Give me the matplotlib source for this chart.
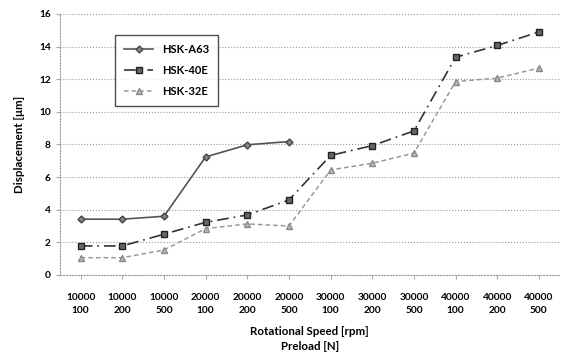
import matplotlib
matplotlib.use("Agg")
import matplotlib.pyplot as plt

speeds = ["10000", "10000", "10000", "20000", "20000", "20000",
          "30000", "30000", "30000", "40000", "40000", "40000"]
preloads = ["100", "200", "500"] * 4
tick_labels = [f"{s}\n{p}" for s, p in zip(speeds, preloads)]

hsk_a63 = [3.42, 3.42, 3.6, 7.24, 7.98, 8.18]
hsk_40e = [1.78, 1.78, 2.5, 3.23, 3.68, 4.6, 7.33, 7.93, 8.83, 13.35, 14.07, 14.9]
hsk_32e = [1.06, 1.06, 1.53, 2.84, 3.13, 3.0, 6.44, 6.85, 7.47, 11.86, 12.07, 12.68]

plt.rcParams["font.family"] = ["Lato", "DejaVu Sans"]
plt.rcParams["font.weight"] = "bold"

fig = plt.figure(figsize=(5.7, 3.55), dpi=100)
ax = fig.add_axes([0.105, 0.2254, 0.877, 0.7352])

x = list(range(len(tick_labels)))
ax.plot(x[:len(hsk_a63)], hsk_a63, color="#555555", lw=1.2, ls="-",
        marker="D", ms=3.5, mfc="#888888", mec="#444444", label="HSK-A63")
ax.plot(x, hsk_40e, color="#333333", lw=1.2, ls=(0, (7, 3, 1, 3)),
        marker="s", ms=5, mfc="#666666", mec="#222222", label="HSK-40E")
ax.plot(x, hsk_32e, color="#999999", lw=1.1, ls=(0, (3, 2)),
        marker="^", ms=4.5, mfc="#bbbbbb", mec="#888888", label="HSK-32E")

ax.set_xlim(-0.5, len(x) - 0.5)
ax.set_ylim(0, 16)
ax.set_yticks(range(0, 17, 2))
ax.set_xticks(x)
ax.set_xticklabels(tick_labels, fontsize=7.3, fontweight="bold", linespacing=1.6)
ax.tick_params(axis="y", labelsize=7.3, length=3, color="#aaaaaa")
ax.tick_params(axis="x", length=3, color="#aaaaaa", pad=10)

ax.grid(axis="y", color="#999999", ls=":", lw=0.8)
for side in ["top", "right"]:
    ax.spines[side].set_visible(False)
for side in ["left", "bottom"]:
    ax.spines[side].set_color("#999999")
    ax.spines[side].set_linestyle(":")

ax.set_xlabel("Rotational Speed [rpm]\nPreload [N]", fontsize=8.3, fontweight="bold",
              linespacing=1.45, labelpad=8)
ax.set_ylabel("Displacement [\u03bcm]", fontsize=8.3, fontweight="bold", labelpad=10)

leg = ax.legend(loc="upper left", bbox_to_anchor=(0.1, 0.94), fontsize=8,
                frameon=True, fancybox=False, borderpad=0.8, labelspacing=0.9,
                handlelength=2.6, edgecolor="#222222")
leg.get_frame().set_linewidth(1.0)

fig.savefig("out.png", dpi=100)
